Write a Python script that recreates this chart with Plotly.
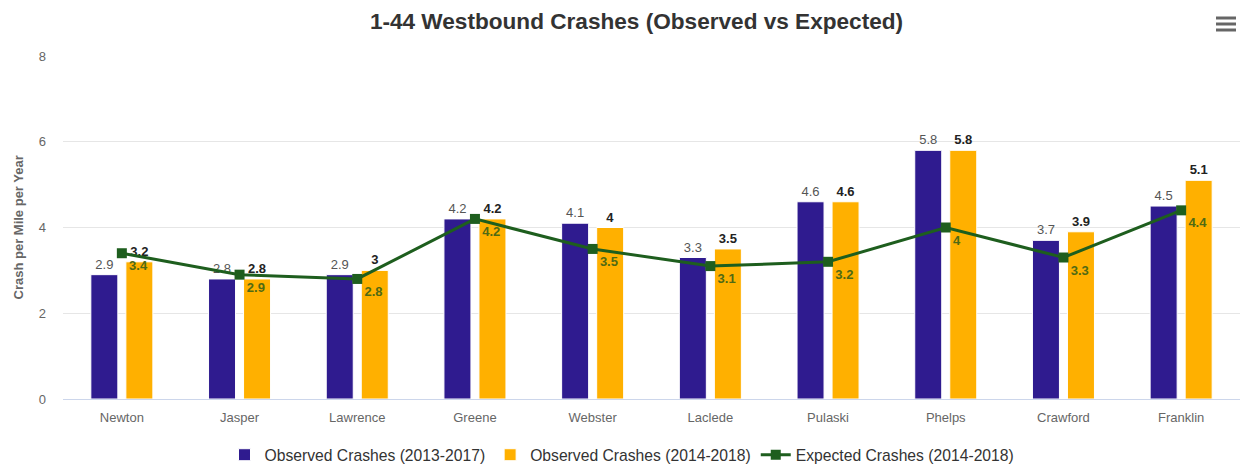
import plotly.graph_objects as go

counties = ["Newton", "Jasper", "Lawrence", "Greene", "Webster",
            "Laclede", "Pulaski", "Phelps", "Crawford", "Franklin"]
observed_2013_2017 = [2.9, 2.8, 2.9, 4.2, 4.1, 3.3, 4.6, 5.8, 3.7, 4.5]
observed_2014_2018 = [3.2, 2.8, 3, 4.2, 4, 3.5, 4.6, 5.8, 3.9, 5.1]
expected_2014_2018 = [3.4, 2.9, 2.8, 4.2, 3.5, 3.1, 3.2, 4, 3.3, 4.4]

FONT = "Liberation Sans, Arial, sans-serif"
W, H = 1244, 466
ML, MR, MT, MB = 63, 4, 56, 67

fig = go.Figure()

fig.add_trace(go.Bar(
    name="Observed Crashes (2013-2017)",
    x=counties, y=observed_2013_2017,
    marker=dict(color="#2f1b8f", line=dict(color="white", width=1)),
    text=[str(v) for v in observed_2013_2017],
    textposition="outside",
    textfont=dict(family=FONT, size=13, color="#555555"),
    cliponaxis=False,
))
fig.add_trace(go.Bar(
    name="Observed Crashes (2014-2018)",
    x=counties, y=observed_2014_2018,
    marker=dict(color="#ffb000", line=dict(color="white", width=1)),
    text=[f"<b>{v}</b>" for v in observed_2014_2018],
    textposition="outside",
    textfont=dict(family=FONT, size=13, color="#222222"),
    cliponaxis=False,
))
fig.add_trace(go.Scatter(
    name="Expected Crashes (2014-2018)",
    x=counties, y=expected_2014_2018,
    mode="lines+markers+text",
    line=dict(color="#1e5e1e", width=3),
    marker=dict(symbol="square", size=10, color="#1e5e1e"),
    text=[f"<b>{v}</b>" for v in expected_2014_2018],
    textposition="bottom right",
    textfont=dict(family=FONT, size=13, color="#4f6a14"),
    cliponaxis=False,
))

pw, ph = W - ML - MR, H - MT - MB

# hamburger menu icon in the top-right corner (pixel positions -> paper units)
shapes = []
for py in [18, 24, 30]:
    yy = 1 + (MT - py) / ph
    shapes.append(dict(type="line", xref="paper", yref="paper",
                       x0=(1216 - ML) / pw, x1=(1236 - ML) / pw, y0=yy, y1=yy,
                       line=dict(color="#666666", width=3)))

# y-axis title placed as a rotated annotation near the left edge
annotations = [dict(
    text="<b>Crash per Mile per Year</b>", textangle=-90,
    xref="paper", yref="paper", x=(18 - ML) / pw, y=0.5,
    xanchor="center", yanchor="middle", showarrow=False,
    font=dict(family=FONT, size=13, color="#666666"),
)]

fig.update_layout(
    width=W, height=H,
    margin=dict(l=ML, r=MR, t=MT, b=MB, autoexpand=False),
    paper_bgcolor="white", plot_bgcolor="white",
    font=dict(family=FONT, size=13, color="#333333"),
    title=dict(text="<b>1-44 Westbound Crashes (Observed vs Expected)</b>",
               x=636.5 / W, xanchor="center", xref="container",
               y=1 - 21 / H, yanchor="middle", yref="container",
               font=dict(family=FONT, size=22.6, color="#333333")),
    barmode="group", bargap=0.405, bargroupgap=0.229,
    showlegend=True,
    legend=dict(orientation="h", x=0.5, xanchor="center", xref="container",
                y=11 / H, yanchor="middle", yref="container",
                font=dict(family=FONT, size=15.7, color="#333333"),
                traceorder="normal", itemwidth=30),
    xaxis=dict(range=[-0.5, len(counties) - 0.5], autorange=False,
               showgrid=False, showline=True, linecolor="#ccd6eb", linewidth=1,
               ticks="outside", ticklen=6, tickcolor="rgba(0,0,0,0)",
               tickfont=dict(family=FONT, size=13, color="#666666")),
    yaxis=dict(range=[0, 8], dtick=2, showgrid=True, gridcolor="#e6e6e6",
               zeroline=False, showline=False,
               tickfont=dict(family=FONT, size=13, color="#666666"),
               ticklabelstandoff=16),
    shapes=shapes,
    annotations=annotations,
)

fig.write_html("out.html")
